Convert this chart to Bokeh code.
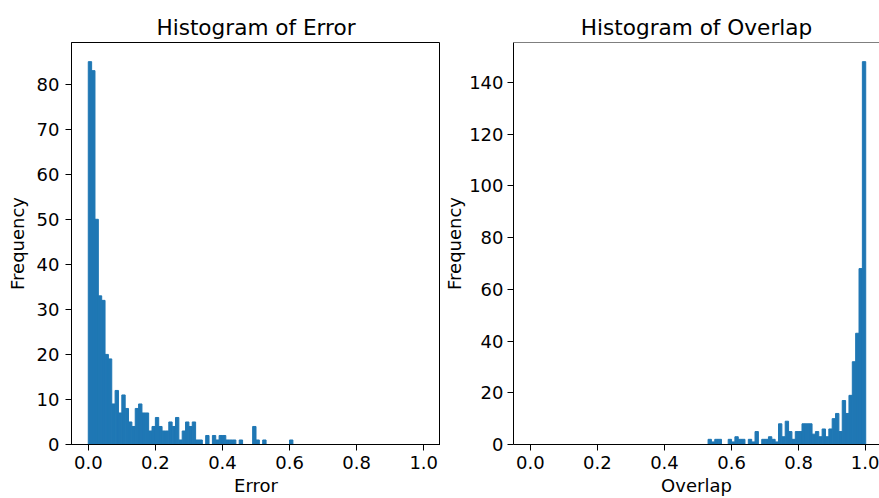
import numpy as np
from bokeh.plotting import figure
from bokeh.layouts import row
from bokeh.models import FixedTicker, Span, Range1d, PrintfTickFormatter
from bokeh.embed import file_html
from bokeh.resources import INLINE

# ---- data ----
bin_edges = np.linspace(0.0, 1.0, 101)

error_counts = [85, 83, 50, 33, 32, 20, 19, 9, 12, 7,
                11, 8, 5, 4, 8, 9, 7, 7, 3, 4,
                6, 4, 3, 3, 5, 4, 6, 1, 3, 5,
                4, 5, 1, 1, 0, 2, 0, 2, 1, 2,
                2, 1, 1, 1, 0, 1, 0, 0, 0, 4,
                1, 0, 1, 0, 0, 0, 0, 0, 0, 0,
                1] + [0] * 39

overlap_counts = [0] * 53 + [2, 1, 2, 2, 0, 0, 2,
                             1, 3, 2, 2, 0, 2, 1, 5, 0, 2,
                             2, 3, 2, 1, 8, 3, 9, 5, 2, 5,
                             5, 8, 8, 8, 4, 5, 3, 6, 3, 6,
                             10, 12, 5, 17, 12, 19, 32, 43, 68, 148]

x_ticks = [0.0, 0.2, 0.4, 0.6, 0.8, 1.0]
error_y_ticks = [0, 10, 20, 30, 40, 50, 60, 70, 80]
overlap_y_ticks = [0, 20, 40, 60, 80, 100, 120, 140]

BAR = "#1f77b4"
FONT = "DejaVu Sans"
TICK_SIZE = "18px"
LABEL_SIZE = "18px"
TITLE_SIZE = "21.6px"
H = 498
TOP = 42
BOTTOM = 54


def nonzero_bars(counts):
    lefts = [bin_edges[i] for i, c in enumerate(counts) if c > 0]
    rights = [bin_edges[i + 1] for i, c in enumerate(counts) if c > 0]
    tops = [c for c in counts if c > 0]
    return dict(left=lefts, right=rights, top=tops)


def style(p, yticks):
    p.xaxis.ticker = FixedTicker(ticks=x_ticks)
    p.xaxis.formatter = PrintfTickFormatter(format="%.1f")
    p.yaxis.ticker = FixedTicker(ticks=yticks)
    for ax in (p.xaxis[0], p.yaxis[0]):
        ax.major_tick_in = 0
        ax.major_tick_out = 6
        ax.minor_tick_in = 0
        ax.minor_tick_out = 0
        ax.major_label_text_font = FONT
        ax.major_label_text_font_size = TICK_SIZE
        ax.major_label_text_color = "black"
        ax.axis_label_text_font = FONT
        ax.axis_label_text_font_size = LABEL_SIZE
        ax.axis_label_text_font_style = "normal"
        ax.axis_label_text_color = "black"
        ax.axis_line_color = "black"
        ax.axis_line_width = 1
        ax.major_tick_line_color = "black"
        ax.major_tick_line_width = 1
    p.xaxis.major_label_standoff = 5
    p.xaxis.axis_label_standoff = 3
    p.yaxis.major_label_standoff = 6
    p.yaxis.axis_label_standoff = 6
    p.xgrid.visible = False
    p.ygrid.visible = False
    p.title.text_font = FONT
    p.title.text_font_size = TITLE_SIZE
    p.title.text_font_style = "normal"
    p.title.text_color = "black"
    p.title.align = "center"
    p.title.standoff = 5
    p.background_fill_color = "white"
    p.border_fill_color = "white"


# ---- left panel ----
FRAME_W = 369
LB1 = 71
p1 = figure(width=LB1 + FRAME_W, height=H,
            x_range=Range1d(-0.05, 1.05),
            y_range=Range1d(0, max(error_counts) * 1.05),
            title="Histogram of Error", x_axis_label="Error", y_axis_label="Frequency",
            output_backend="svg", toolbar_location=None,
            min_border_left=LB1, min_border_right=0, min_border_top=TOP, min_border_bottom=BOTTOM)
p1.quad(bottom=0, fill_color=BAR, line_color=BAR, line_width=1.0,
        **nonzero_bars(error_counts))
style(p1, error_y_ticks)
p1.outline_line_color = "black"
p1.outline_line_width = 1

# ---- right panel (cut at the right edge like the reference) ----
W2 = 879 - (LB1 + FRAME_W)
LB2 = 73
vis_w = W2 - LB2
p2 = figure(width=W2, height=H,
            x_range=Range1d(-0.05, -0.05 + 1.1 * vis_w / FRAME_W),
            y_range=Range1d(0, max(overlap_counts) * 1.05),
            title="Histogram of Overlap", x_axis_label="Overlap", y_axis_label="Frequency",
            output_backend="svg", toolbar_location=None,
            min_border_left=LB2, min_border_right=0, min_border_top=TOP, min_border_bottom=BOTTOM)
p2.quad(bottom=0, fill_color=BAR, line_color=BAR, line_width=1.0,
        **nonzero_bars(overlap_counts))
style(p2, overlap_y_ticks)
p2.yaxis.major_label_standoff = 4
p2.yaxis.axis_label_standoff = 1
p2.outline_line_color = None
p2.add_layout(Span(location=max(overlap_counts) * 1.05, dimension="width",
                   line_color="black", line_width=1))

layout = row(p1, p2)
open("out.html", "w").write(file_html(layout, INLINE))
